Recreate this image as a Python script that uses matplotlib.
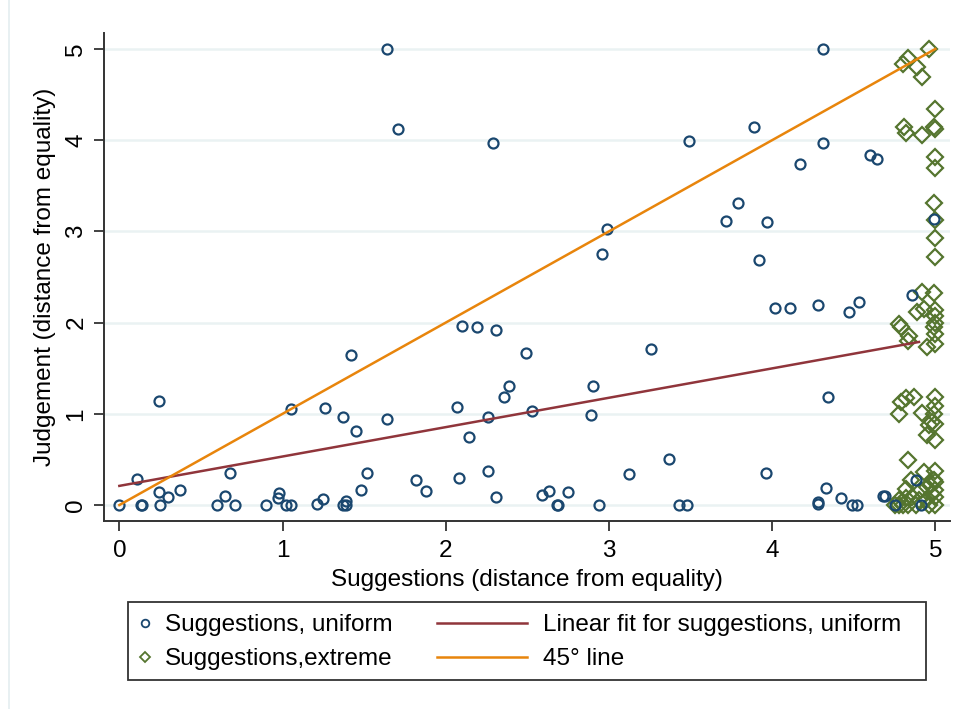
import matplotlib
matplotlib.use("Agg")
import matplotlib.pyplot as plt
from matplotlib.lines import Line2D
from matplotlib.patches import Rectangle
import numpy as np

plt.rcParams['font.family'] = ['Liberation Sans', 'DejaVu Sans']

# ---- data ----
uniform_x = [0.00, 0.11, 0.13, 0.14, 0.24, 0.24, 0.25, 0.30, 0.37, 0.60, 0.65, 0.68, 0.71, 0.90,
             0.97, 0.98, 1.02, 1.05, 1.05, 1.21, 1.25, 1.26, 1.37, 1.37, 1.39, 1.39, 1.42, 1.45,
             1.48, 1.52, 1.64, 1.64, 1.71, 1.82, 1.88, 2.07, 2.08, 2.10, 2.14, 2.19, 2.26, 2.26,
             2.29, 2.31, 2.31, 2.36, 2.39, 2.49, 2.53, 2.59, 2.63, 2.68, 2.69, 2.75, 2.89, 2.90,
             2.94, 2.96, 2.99, 3.12, 3.26, 3.37, 3.43, 3.48, 3.49, 3.72, 3.79, 3.89, 3.92, 3.96,
             3.97, 4.02, 4.11, 4.17, 4.28, 4.28, 4.28, 4.31, 4.31, 4.33, 4.34, 4.42, 4.47, 4.49,
             4.52, 4.53, 4.60, 4.64, 4.68, 4.69, 4.75, 4.86, 4.88, 4.91, 4.99]
uniform_y = [0.00, 0.28, 0.00, 0.00, 1.14, 0.14, 0.00, 0.09, 0.17, 0.00, 0.10, 0.35, 0.00, 0.00,
             0.08, 0.13, 0.00, 0.00, 1.05, 0.01, 0.07, 1.06, 0.96, 0.00, 0.00, 0.04, 1.65, 0.81,
             0.17, 0.35, 0.94, 5.00, 4.12, 0.27, 0.15, 1.08, 0.30, 1.96, 0.75, 1.95, 0.97, 0.37,
             3.97, 1.92, 0.09, 1.18, 1.30, 1.67, 1.03, 0.11, 0.15, 0.00, 0.00, 0.14, 0.99, 1.31,
             0.00, 2.75, 3.03, 0.34, 1.71, 0.51, 0.00, 0.00, 3.99, 3.11, 3.31, 4.14, 2.69, 0.35,
             3.10, 2.16, 2.16, 3.74, 2.19, 0.01, 0.03, 5.00, 3.97, 0.19, 1.18, 0.08, 2.12, 0.00,
             0.00, 2.23, 3.84, 3.79, 0.10, 0.10, 0.00, 2.30, 0.27, 0.00, 3.14]

extreme_x = [4.96, 4.80, 4.83, 4.89, 4.92, 5.00, 4.81, 4.82, 4.92, 4.99, 5.00, 5.00, 5.00, 4.99,
             5.00, 5.00, 5.00, 4.92, 4.99, 4.89, 4.93, 5.00, 4.78, 4.79, 5.00, 5.00, 4.99, 5.00,
             4.84, 4.83, 4.95, 5.00, 4.79, 4.82, 4.87, 4.78, 4.92, 5.00, 5.00, 4.99, 4.98, 5.00,
             4.96, 4.95, 5.00, 4.83, 4.93, 5.00, 4.99, 4.95, 4.91, 4.82, 4.85, 4.78, 4.80, 4.83,
             4.88, 4.96, 5.00, 4.82, 4.86, 4.94, 5.00, 5.00, 5.00, 4.78, 4.97, 4.75, 4.90, 4.98]
extreme_y = [5.00, 4.84, 4.90, 4.80, 4.69, 4.34, 4.14, 4.08, 4.06, 4.14, 4.12, 3.82, 3.70, 3.31,
             3.13, 2.93, 2.72, 2.34, 2.32, 2.12, 2.15, 2.14, 1.99, 1.95, 2.07, 2.00, 1.95, 1.88,
             1.85, 1.80, 1.73, 1.77, 1.13, 1.17, 1.18, 1.00, 1.01, 1.18, 1.09, 1.00, 0.91, 0.89,
             0.88, 0.77, 0.71, 0.49, 0.36, 0.37, 0.27, 0.20, 0.16, 0.18, 0.27, 0.00, 0.00, 0.00,
             0.00, 0.00, 0.00, 0.08, 0.09, 0.05, 0.09, 0.16, 0.25, 0.05, 0.22, 0.00, 0.05, 0.12]

fit_intercept = 0.21
fit_slope = 0.322
fit_range = [0.0, 4.90]
diag_range = [0.0, 5.0]

x_ticks = [0, 1, 2, 3, 4, 5]
y_ticks = [0, 1, 2, 3, 4, 5]

marker_labels = ["Suggestions, uniform", "Suggestions,extreme"]
line_labels = ["Linear fit for suggestions, uniform", "45° line"]

# ---- styles ----
c_navy = "#1a476f"
c_green = "#55752f"
c_maroon = "#90353b"
c_orange = "#e8850c"
c_grid = "#eaf2f3"
c_axis = "#333333"
FS = 17.5

W, H = 967, 709
fig = plt.figure(figsize=(W / 100, H / 100), dpi=100)
ax = fig.add_axes([104 / W, 1 - 521 / H, (950 - 104) / W, (521 - 33) / H])

ax.set_xlim(-0.094, 5.09)
ax.set_ylim(-0.175, 5.175)

for t in y_ticks:
    ax.axhline(t, color=c_grid, lw=1.8, zorder=0)

ax.plot(extreme_x, extreme_y, linestyle='none', marker='D', markersize=8,
        markerfacecolor='none', markeredgecolor=c_green, markeredgewidth=1.6, zorder=3)
ax.plot(uniform_x, uniform_y, linestyle='none', marker='o', markersize=7.2,
        markerfacecolor='none', markeredgecolor=c_navy, markeredgewidth=1.6, zorder=4)

fx = np.array(fit_range)
ax.plot(fx, fit_intercept + fit_slope * fx, color=c_maroon, lw=1.8, zorder=5)
ax.plot(diag_range, diag_range, color=c_orange, lw=1.8, zorder=5)

ax.spines['top'].set_visible(False)
ax.spines['right'].set_visible(False)
for s in ('left', 'bottom'):
    ax.spines[s].set_color(c_axis)
    ax.spines[s].set_linewidth(1.4)

ax.set_xticks(x_ticks)
ax.set_yticks(y_ticks)
ax.tick_params(axis='both', direction='out', length=7, width=1.3, color=c_axis,
               labelsize=FS)
ax.tick_params(axis='x', pad=7)
ax.tick_params(axis='y', pad=5)
for lab in ax.get_yticklabels():
    lab.set_rotation(90)
    lab.set_va('center')

ax.set_xlabel("Suggestions (distance from equality)", fontsize=FS, labelpad=5)
ax.set_ylabel("Judgement (distance from equality)", fontsize=FS, labelpad=7)

# faint outer graph-region edge on the left
fig.add_artist(Line2D([9 / W, 9 / W], [0, 1], transform=fig.transFigure,
                      color="#e4edf0", lw=1.2))

# ---- legend: framed box with two columns ----
fig.patches.append(Rectangle((128 / W, 1 - 680 / H), (926 - 128) / W, (680 - 602) / H,
                             transform=fig.transFigure, facecolor='white',
                             edgecolor=c_axis, linewidth=1.3, zorder=1))

marker_handles = [
    Line2D([], [], linestyle='none', marker='o', markersize=5.5, markerfacecolor='none',
           markeredgecolor=c_navy, markeredgewidth=1.3),
    Line2D([], [], linestyle='none', marker='D', markersize=5.5, markerfacecolor='none',
           markeredgecolor=c_green, markeredgewidth=1.3),
]
line_handles = [
    Line2D([], [], color=c_maroon, lw=1.8),
    Line2D([], [], color=c_orange, lw=1.8),
]
leg1 = fig.legend(marker_handles, marker_labels, loc='upper left',
                  bbox_to_anchor=(137.7 / W, 1 - 614 / H), borderaxespad=0, borderpad=0,
                  fontsize=FS, frameon=False, handlelength=0.6, handletextpad=0.52,
                  labelspacing=0.5)
leg2 = fig.legend(line_handles, line_labels, loc='upper left',
                  bbox_to_anchor=(437 / W, 1 - 614 / H), borderaxespad=0, borderpad=0,
                  fontsize=FS, frameon=False, handlelength=3.7, handletextpad=0.66,
                  labelspacing=0.5)

fig.savefig("out.png", dpi=100)
